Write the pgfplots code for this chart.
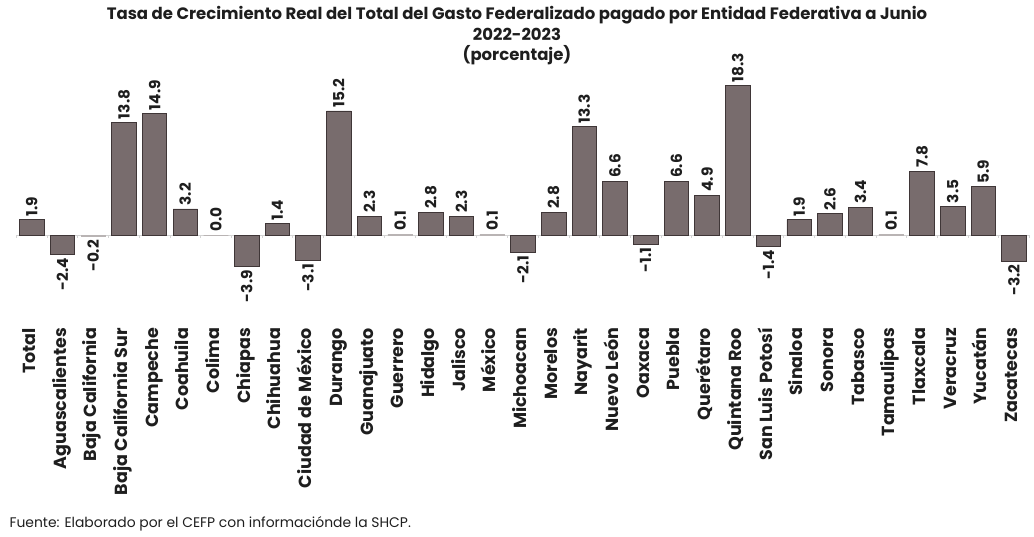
\documentclass[border=0pt]{standalone}
\usepackage{fontspec}
\setmainfont{Poppins}
\usepackage{pgfplots}
\usepackage{pgfplotstable}
\pgfplotsset{compat=1.18}
\definecolor{barFill}{HTML}{786C6D}
\definecolor{barEdge}{HTML}{3F3637}
\definecolor{zeroLine}{HTML}{D4D4D4}
\definecolor{tinyBar}{HTML}{B9B4B4}
\definecolor{txt}{HTML}{1E1E1E}

% positive values: label above the bar
\pgfplotstableread{
x  y
0  1.9
3  13.8
4  14.9
5  3.2
8  1.4
10 15.2
11 2.3
13 2.8
14 2.3
17 2.8
18 13.3
19 6.6
21 6.6
22 4.9
23 18.3
25 1.9
26 2.6
27 3.4
29 7.8
30 3.5
31 5.9
}\pos
% negative values: label below the bar
\pgfplotstableread{
x  y
1  -2.4
7  -3.9
9  -3.1
16 -2.1
20 -1.1
24 -1.4
32 -3.2
}\neg
% near-zero values (drawn as a thin light bar)
\pgfplotstableread{
x  y
6  0.0
12 0.1
15 0.1
28 0.1
}\tinypos
\pgfplotstableread{
x  y
2  -0.2
}\tinyneg

\begin{document}
\begin{tikzpicture}
\begin{axis}[
    at={(16.5pt,-324.8pt)}, anchor=south west,
    scale only axis, width=1012.9pt, height=253pt,
    xmin=-0.5, xmax=32.5, ymin=-11, ymax=20,
    ybar, bar width=0.8, bar shift=0pt,
    axis line style={draw=none},
    ytick=\empty,
    xtick={0,...,32},
    xticklabels={Total,Aguascalientes,Baja California,Baja California Sur,Campeche,Coahuila,Colima,Chiapas,Chihuahua,Ciudad de México,Durango,Guanajuato,Guerrero,Hidalgo,Jalisco,México,Michoacan,Morelos,Nayarit,Nuevo León,Oaxaca,Puebla,Querétaro,Quintana Roo,San Luis Potosí,Sinaloa,Sonora,Tabasco,Tamaulipas,Tlaxcala,Veracruz,Yucatán,Zacatecas},
    major tick length=0pt,
    xticklabel style={rotate=90, anchor=east, inner sep=3pt, text height=1.6ex, text depth=0.3ex,
        font=\bfseries\fontsize{17.5}{18}\selectfont, text=txt},
    clip=false,
    nodes near coords,
    /pgf/number format/.cd, fixed, fixed zerofill, precision=1, assume math mode=true,
    /pgfplots/.cd,
    every node near coord/.append style={rotate=90, font=\bfseries\fontsize{15.3}{16}\selectfont, text=txt, inner sep=3pt},
]
\draw[zeroLine, line width=0.8pt] (axis cs:-0.5,0) -- (axis cs:32.5,0);
\pgfplotsinvokeforeach{0,...,33}{\draw[zeroLine, line width=0.8pt] (axis cs:#1-0.5,0) -- (axis cs:#1-0.5,-0.4);}
\addplot[draw=barEdge, fill=barFill, line width=0.8pt,
    every node near coord/.append style={anchor=west}] table[x=x,y=y] {\pos};
\addplot[draw=barEdge, fill=barFill, line width=0.8pt,
    every node near coord/.append style={anchor=east}] table[x=x,y=y] {\neg};
\addplot[draw=tinyBar, fill=tinyBar, line width=0.6pt,
    every node near coord/.append style={anchor=west}] table[x=x,y=y] {\tinypos};
\addplot[draw=tinyBar, fill=tinyBar, line width=0.6pt,
    every node near coord/.append style={anchor=east}] table[x=x,y=y] {\tinyneg};
\end{axis}
\begin{scope}[font=\bfseries\fontsize{16.5}{17}\selectfont, text=txt]
\node[anchor=base] at (517pt,-20pt) {Tasa de Crecimiento Real del Total del Gasto Federalizado pagado por Entidad Federativa a Junio};
\node[anchor=base] at (517pt,-41pt) {2022-2023};
\node[anchor=base] at (517pt,-61pt) {(porcentaje)};
\end{scope}
\node[anchor=base west, font=\fontsize{13.9}{14}\selectfont, text=txt] at (6pt,-527pt) {Fuente: Elaborado por el CEFP con informaciónde la SHCP.};
\pgfresetboundingbox
\path[use as bounding box] (0,0) rectangle (1034pt,-537pt);
\end{tikzpicture}
\end{document}
